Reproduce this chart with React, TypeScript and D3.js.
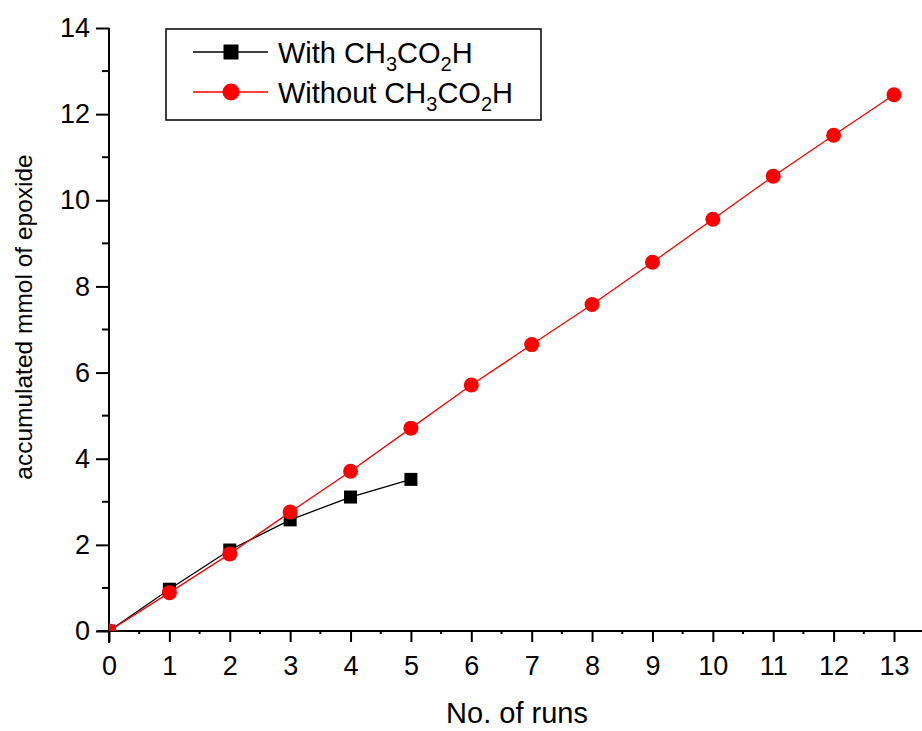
import React, { useRef, useEffect } from "react"
import * as d3 from "d3"

// runs 0..5 with acetic acid, 0..13 without
const runsWith = [0, 1, 2, 3, 4, 5]
const valuesWith = [0, 0.97, 1.88, 2.58, 3.11, 3.52]
const runsWithout = [0, 1, 2, 3, 4, 5, 6, 7, 8, 9, 10, 11, 12, 13]
const valuesWithout = [0, 0.89, 1.79, 2.76, 3.71, 4.71, 5.71, 6.65, 7.58, 8.56, 9.56, 10.56, 11.51, 12.45]
const xTicks = [0, 1, 2, 3, 4, 5, 6, 7, 8, 9, 10, 11, 12, 13]
const yTicks = [0, 2, 4, 6, 8, 10, 12, 14]

const W = 922,
  H = 731
const margin = { top: 28, right: 0, bottom: 100, left: 109 }
const FONT = "'Liberation Sans', Arial, sans-serif"

function Chart() {
  const ref = useRef(null)

  useEffect(() => {
    const svg = d3.select(ref.current)
    svg.selectAll("*").remove()

    const x = d3.scaleLinear().domain([0, 13]).range([margin.left, 894])
    const y = d3.scaleLinear().domain([0, 14]).range([631, margin.top])

    svg
      .append("defs")
      .append("clipPath")
      .attr("id", "plot-clip")
      .append("rect")
      .attr("x", x(0))
      .attr("y", 0)
      .attr("width", W - x(0))
      .attr("height", y(0))

    // minor ticks
    const yMinor = d3.range(1, 14, 2)
    const xMinor = d3.range(0.5, 13.6, 1)
    svg
      .append("g")
      .selectAll("line")
      .data(yMinor)
      .join("line")
      .attr("x1", x(0) - 7)
      .attr("x2", x(0))
      .attr("y1", d => y(d))
      .attr("y2", d => y(d))
      .attr("stroke", "#000")
      .attr("stroke-width", 2)
    svg
      .append("g")
      .selectAll("line")
      .data(xMinor)
      .join("line")
      .attr("x1", d => x(d))
      .attr("x2", d => x(d))
      .attr("y1", y(0))
      .attr("y2", y(0) + 3)
      .attr("stroke", "#000")
      .attr("stroke-width", 2)

    const xAxis = svg
      .append("g")
      .attr("transform", `translate(0,${y(0)})`)
      .call(
        d3
          .axisBottom(x)
          .tickValues(xTicks)
          .tickSize(11)
          .tickPadding(14)
          .tickSizeOuter(0)
      )
    xAxis.select(".domain").remove()
    xAxis.append("line").attr("x1", x(0) - 12).attr("x2", W).attr("stroke", "#000").attr("stroke-width", 2)
    xAxis.selectAll(".tick line").attr("stroke-width", 2)
    xAxis.selectAll(".tick text").attr("font-size", 27).attr("font-family", FONT).attr("fill", "#000")

    const yAxis = svg
      .append("g")
      .attr("transform", `translate(${x(0)},0)`)
      .call(d3.axisLeft(y).tickValues(yTicks).tickSize(13).tickPadding(6).tickSizeOuter(0))
    yAxis.select(".domain").remove()
    yAxis.append("line").attr("y1", y(14)).attr("y2", y(0) + 12).attr("stroke", "#000").attr("stroke-width", 2)
    yAxis.selectAll(".tick line").attr("stroke-width", 2)
    yAxis.selectAll(".tick text").attr("font-size", 27).attr("font-family", FONT).attr("fill", "#000")

    // axis titles
    svg
      .append("text")
      .attr("x", 517)
      .attr("y", 723)
      .attr("text-anchor", "middle")
      .attr("font-family", FONT)
      .attr("font-size", 29)
      .text("No. of runs")
    svg
      .append("text")
      .attr("transform", "translate(32,317) rotate(-90)")
      .attr("text-anchor", "middle")
      .attr("font-family", FONT)
      .attr("font-size", 24.5)
      .text("accumulated mmol of epoxide")

    const plot = svg.append("g").attr("clip-path", "url(#plot-clip)")
    const line = d3
      .line()
      .x(d => x(d[0]))
      .y(d => y(d[1]))

    const dWith = runsWith.map((r, i) => [r, valuesWith[i]])
    const dWithout = runsWithout.map((r, i) => [r, valuesWithout[i]])

    plot.append("path").attr("d", line(dWith)).attr("fill", "none").attr("stroke", "#000").attr("stroke-width", 1.3)
    plot
      .selectAll(".sq")
      .data(dWith)
      .join("rect")
      .attr("x", d => x(d[0]) - 6.5)
      .attr("y", d => y(d[1]) - 6.5)
      .attr("width", 13)
      .attr("height", 13)
      .attr("fill", "#000")

    plot.append("path").attr("d", line(dWithout)).attr("fill", "none").attr("stroke", "#ff0000").attr("stroke-width", 1.3)
    plot
      .selectAll(".ci")
      .data(dWithout)
      .join("circle")
      .attr("cx", d => x(d[0]))
      .attr("cy", d => y(d[1]))
      .attr("r", 7.5)
      .attr("fill", "#ff0000")

    // legend
    const lg = svg.append("g")
    lg.append("rect")
      .attr("x", 166)
      .attr("y", 29)
      .attr("width", 375)
      .attr("height", 91)
      .attr("fill", "#fff")
      .attr("stroke", "#000")
      .attr("stroke-width", 1.5)

    const entries = [
      { pre: "With ", color: "#000", shape: "square", cy: 52, base: 63 },
      { pre: "Without ", color: "#ff0000", shape: "circle", cy: 92, base: 103 },
    ]
    entries.forEach(e => {
      lg.append("line").attr("x1", 193).attr("x2", 268).attr("y1", e.cy).attr("y2", e.cy).attr("stroke", e.color).attr("stroke-width", 1.3)
      if (e.shape === "square") {
        lg.append("rect").attr("x", 231 - 7.5).attr("y", e.cy - 7.5).attr("width", 15).attr("height", 15).attr("fill", e.color)
      } else {
        lg.append("circle").attr("cx", 231).attr("cy", e.cy).attr("r", 8.5).attr("fill", e.color)
      }
      const t = lg.append("text").attr("x", 278).attr("y", e.base).attr("font-family", FONT).attr("font-size", 29)
      t.append("tspan").text(e.pre + "CH")
      t.append("tspan").attr("font-size", 20).attr("dy", 8).text("3")
      t.append("tspan").attr("dy", -8).text("CO")
      t.append("tspan").attr("font-size", 20).attr("dy", 8).text("2")
      t.append("tspan").attr("dy", -8).text("H")
    })
  }, [])

  return <svg ref={ref} width={W} height={H} style={{ display: "block" }}></svg>
}

export default function App() {
  return (
    <div style={{ position: "absolute", left: 0, top: 0, background: "#fff" }}>
      <Chart />
    </div>
  )
}
